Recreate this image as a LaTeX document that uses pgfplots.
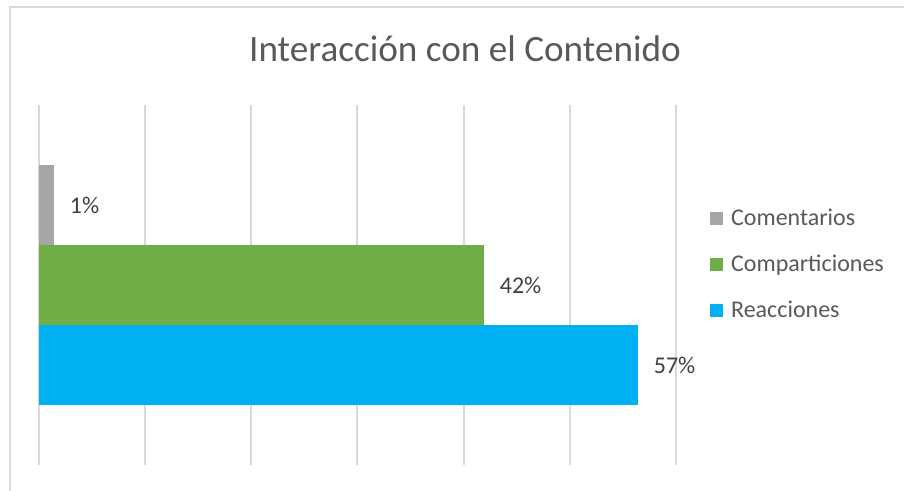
\documentclass[border=0pt]{standalone}
\usepackage{fontspec}
\setmainfont{Carlito}
\usepackage{pgfplots}
\pgfplotsset{compat=1.18}

\definecolor{cGris}{HTML}{A5A5A5}
\definecolor{cVerde}{HTML}{70AD47}
\definecolor{cAzul}{HTML}{00B0F0}
\definecolor{cGrid}{HTML}{D9D9D9}
\definecolor{cTexto}{HTML}{595959}
\definecolor{cLabel}{HTML}{404040}

\begin{document}
\begin{tikzpicture}
% page frame (right and bottom edges fall outside the image)
\useasboundingbox (-19.5pt,-13pt) rectangle (432.5pt,232.5pt);
\draw[cGrid, line width=1pt] (-14.5pt,-30pt) rectangle (450pt,229pt);
\begin{axis}[
    at={(0pt,0pt)}, anchor=south west,
    xbar,
    scale only axis,
    width=318.5pt,
    height=180pt,
    xmin=0, xmax=60,
    ymin=-2.25, ymax=2.25,
    bar width=1,
    xtick={0,10,...,60},
    xticklabels={},
    ytick=\empty,
    xmajorgrids,
    major grid style={cGrid, line width=1pt},
    axis line style={draw=none},
    tick style={draw=none},
    nodes near coords style={font=\fontsize{12}{14}\selectfont, text=cLabel, anchor=west, xshift=4.5pt},
    legend cell align=left,
    legend style={draw=none, fill=none, at={(1.053,0.557)}, anchor=west,
        font=\fontsize{12}{14}\selectfont, text=cTexto, row sep=9.3pt,
        inner sep=0pt, nodes={inner xsep=4pt}},
    legend image code/.code={\fill[#1] (0pt,-3.25pt) rectangle (6.5pt,3.25pt);},
    title={Interacción con el Contenido},
    title style={font=\fontsize{18.6}{22}\selectfont, text=cTexto, at={(213pt,202pt)}, anchor=center},
]
\addplot[fill=cGris, draw=none, bar shift=1, nodes near coords={1\%}] coordinates {(1.4,0)};
\addplot[fill=cVerde, draw=none, bar shift=0, nodes near coords={42\%}] coordinates {(41.9,0)};
\addplot[fill=cAzul, draw=none, bar shift=-1, nodes near coords={57\%}] coordinates {(56.4,0)};
\legend{Comentarios, Comparticiones, Reacciones}
\end{axis}
\end{tikzpicture}
\end{document}
